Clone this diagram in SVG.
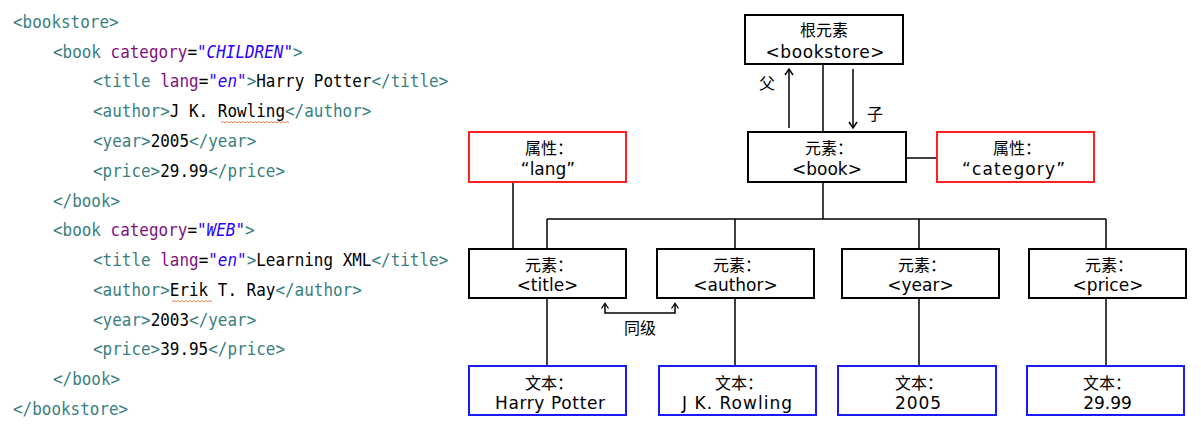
<svg xmlns="http://www.w3.org/2000/svg" width="1201" height="435" viewBox="0 0 1201 435">
<style>
.code{font-family:"DejaVu Sans Mono","Liberation Mono",monospace;font-size:18px;fill:#000}
.tg{fill:#3a7f7f}.an{fill:#7f107f}.av{fill:#2a00ff;font-style:italic}
.bx{fill:#fff;stroke:#000;stroke-width:2}
.ax{fill:#fff;stroke:#ff2020;stroke-width:2}
.tx{fill:#fff;stroke:#1a1aff;stroke-width:2}
.lb{font-family:"DejaVu Sans","Noto Sans CJK SC",sans-serif;font-size:17px;fill:#000;text-anchor:middle}
.cj{font-family:"Noto Sans CJK SC",sans-serif;font-size:16px;fill:#000;text-anchor:middle}
.ln{stroke:#000;stroke-width:1.5;fill:none}
.wv{stroke:#f08050;stroke-width:1;fill:none}
</style>
<defs>
<marker id="ah" markerUnits="userSpaceOnUse" markerWidth="12" markerHeight="12" viewBox="-8 -6 10 12" refX="0" refY="0" orient="auto-start-reverse">
<path d="M-6,-4 L0,0 L-6,4" fill="none" stroke="#000" stroke-width="1.5"/>
</marker>
<marker id="ahs" markerUnits="userSpaceOnUse" markerWidth="10" markerHeight="10" viewBox="-6 -5 8 10" refX="0" refY="0" orient="auto-start-reverse">
<path d="M-5,-3.5 L0,0 L-5,3.5" fill="none" stroke="#000" stroke-width="1.3"/>
</marker>
</defs>
<rect width="1201" height="435" fill="#fff"/>

<g id="code">
<g transform="scale(0.886,1)">
<text class="code" x="14.7" y="28"><tspan class="tg">&lt;bookstore&gt;</tspan></text>
<text class="code" x="59.8" y="57.8"><tspan class="tg">&lt;book </tspan><tspan class="an">category</tspan>=<tspan class="av">"CHILDREN"</tspan><tspan class="tg">&gt;</tspan></text>
<text class="code" x="105" y="87.5"><tspan class="tg">&lt;title </tspan><tspan class="an">lang</tspan>=<tspan class="av">"en"</tspan><tspan class="tg">&gt;</tspan>Harry Potter<tspan class="tg">&lt;/title&gt;</tspan></text>
<text class="code" x="105" y="117.3"><tspan class="tg">&lt;author&gt;</tspan>J K. Rowling<tspan class="tg">&lt;/author&gt;</tspan></text>
<text class="code" x="105" y="147.1"><tspan class="tg">&lt;year&gt;</tspan>2005<tspan class="tg">&lt;/year&gt;</tspan></text>
<text class="code" x="105" y="176.9"><tspan class="tg">&lt;price&gt;</tspan>29.99<tspan class="tg">&lt;/price&gt;</tspan></text>
<text class="code" x="59.8" y="206.6"><tspan class="tg">&lt;/book&gt;</tspan></text>
<text class="code" x="59.8" y="236.4"><tspan class="tg">&lt;book </tspan><tspan class="an">category</tspan>=<tspan class="av">"WEB"</tspan><tspan class="tg">&gt;</tspan></text>
<text class="code" x="105" y="266.2"><tspan class="tg">&lt;title </tspan><tspan class="an">lang</tspan>=<tspan class="av">"en"</tspan><tspan class="tg">&gt;</tspan>Learning XML<tspan class="tg">&lt;/title&gt;</tspan></text>
<text class="code" x="105" y="295.9"><tspan class="tg">&lt;author&gt;</tspan>Erik T. Ray<tspan class="tg">&lt;/author&gt;</tspan></text>
<text class="code" x="105" y="325.7"><tspan class="tg">&lt;year&gt;</tspan>2003<tspan class="tg">&lt;/year&gt;</tspan></text>
<text class="code" x="105" y="355.5"><tspan class="tg">&lt;price&gt;</tspan>39.95<tspan class="tg">&lt;/price&gt;</tspan></text>
<text class="code" x="59.8" y="385.2"><tspan class="tg">&lt;/book&gt;</tspan></text>
<text class="code" x="14.7" y="415"><tspan class="tg">&lt;/bookstore&gt;</tspan></text>
</g>
<path class="wv" d="M221,123 l2,-1.5 l2,1.5 l2,-1.5 l2,1.5 l2,-1.5 l2,1.5 l2,-1.5 l2,1.5 l2,-1.5 l2,1.5 l2,-1.5 l2,1.5 l2,-1.5 l2,1.5 l2,-1.5 l2,1.5 l2,-1.5 l2,1.5 l2,-1.5 l2,1.5 l2,-1.5 l2,1.5 l2,-1.5 l2,1.5 l2,-1.5 l2,1.5 l2,-1.5 l2,1.5 l2,-1.5 l2,1.5 l2,-1.5 l2,1.5 l2,-1.5 l2,1.5"/>
<path class="wv" d="M172,302 l2,-1.5 l2,1.5 l2,-1.5 l2,1.5 l2,-1.5 l2,1.5 l2,-1.5 l2,1.5 l2,-1.5 l2,1.5 l2,-1.5 l2,1.5 l2,-1.5 l2,1.5 l2,-1.5 l2,1.5 l2,-1.5 l2,1.5 l2,-1.5 l2,1.5"/>
</g>

<g id="connectors">
<line class="ln" x1="823" y1="64" x2="823" y2="219"/>
<line class="ln" x1="547" y1="219" x2="1106" y2="219"/>
<line class="ln" x1="547" y1="219" x2="547" y2="249"/>
<line class="ln" x1="735" y1="219" x2="735" y2="249"/>
<line class="ln" x1="919" y1="219" x2="919" y2="249"/>
<line class="ln" x1="1106" y1="219" x2="1106" y2="249"/>
<line class="ln" x1="513" y1="182" x2="513" y2="249"/>
<line class="ln" x1="906" y1="158" x2="937" y2="158"/>
<line class="ln" x1="547" y1="298" x2="547" y2="366"/>
<line class="ln" x1="735" y1="298" x2="735" y2="366"/>
<line class="ln" x1="919" y1="298" x2="919" y2="366"/>
<line class="ln" x1="1106" y1="298" x2="1106" y2="366"/>
<line class="ln" x1="789" y1="128" x2="789" y2="69" marker-end="url(#ah)"/>
<line class="ln" x1="853" y1="69" x2="853" y2="128" marker-end="url(#ah)"/>
<path class="ln" d="M605,303.5 V313 H675 V303.5" marker-start="url(#ahs)" marker-end="url(#ahs)"/>
<text class="cj" x="767" y="89">父</text>
<text class="cj" x="875" y="120">子</text>
<text class="cj" x="640" y="334">同级</text>
</g>

<g id="root">
<rect class="bx" x="745" y="15" width="158" height="49"/>
<text class="cj" x="824" y="36">根元素</text>
<text class="lb" x="825" y="58" textLength="119" lengthAdjust="spacing">&lt;bookstore&gt;</text>
</g>
<g id="book">
<rect class="bx" x="748" y="132" width="158" height="50"/>
<text class="cj" x="829" y="154">元素：</text>
<text class="lb" x="827" y="175">&lt;book&gt;</text>
</g>
<g id="attr-category">
<rect class="ax" x="937" y="132" width="157" height="50"/>
<text class="cj" x="1017" y="154">属性：</text>
<text class="lb" x="1013.5" y="175" textLength="103" lengthAdjust="spacing">“category”</text>
</g>
<g id="attr-lang">
<rect class="ax" x="469" y="132" width="157" height="50"/>
<text class="cj" x="549" y="154">属性：</text>
<text class="lb" x="548" y="175">“lang”</text>
</g>
<g id="el-title">
<rect class="bx" x="469" y="249" width="157" height="49"/>
<text class="cj" x="549" y="271">元素：</text>
<text class="lb" x="547.5" y="291">&lt;title&gt;</text>
</g>
<g id="el-author">
<rect class="bx" x="657" y="249" width="157" height="49"/>
<text class="cj" x="737" y="271">元素：</text>
<text class="lb" x="735.5" y="291">&lt;author&gt;</text>
</g>
<g id="el-year">
<rect class="bx" x="842" y="249" width="157" height="49"/>
<text class="cj" x="922" y="271">元素：</text>
<text class="lb" x="920.5" y="291">&lt;year&gt;</text>
</g>
<g id="el-price">
<rect class="bx" x="1029" y="249" width="157" height="49"/>
<text class="cj" x="1109" y="271">元素：</text>
<text class="lb" x="1108" y="291">&lt;price&gt;</text>
</g>
<g id="txt-title">
<rect class="tx" x="469" y="366" width="157" height="49"/>
<text class="cj" x="549" y="389">文本：</text>
<text class="lb" x="550" y="409" textLength="110" lengthAdjust="spacing">Harry Potter</text>
</g>
<g id="txt-author">
<rect class="tx" x="659" y="366" width="157" height="49"/>
<text class="cj" x="739" y="389">文本：</text>
<text class="lb" x="737" y="409" textLength="110" lengthAdjust="spacing">J K. Rowling</text>
</g>
<g id="txt-year">
<rect class="tx" x="838" y="366" width="158" height="49"/>
<text class="cj" x="919" y="389">文本：</text>
<text class="lb" x="918" y="409" textLength="46" lengthAdjust="spacing">2005</text>
</g>
<g id="txt-price">
<rect class="tx" x="1027" y="366" width="157" height="49"/>
<text class="cj" x="1107" y="389">文本：</text>
<text class="lb" x="1107.5" y="409">29.99</text>
</g>
</svg>
